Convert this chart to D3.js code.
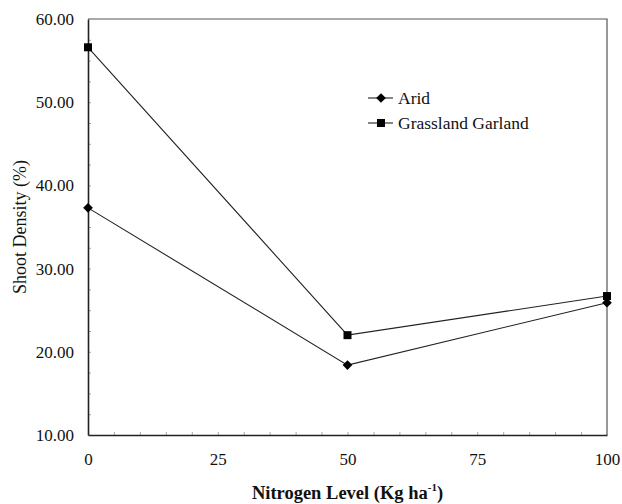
<!DOCTYPE html>
<html>
<head>
<meta charset="utf-8">
<script src="https://cdn.jsdelivr.net/npm/d3@7"></script>
<style>
  body { margin: 0; background: #fff; }
  svg, svg text { font-family: "Times New Roman", Times, "Liberation Serif", "DejaVu Serif", serif !important; }
</style>
</head>
<body>
<svg id="chart" width="622" height="504"></svg>
<script>
const nitrogen = [0, 50, 100];
const arid = [37.3, 18.4, 25.9];
const grassland = [56.6, 22.0, 26.7];
const xTicks = [0, 25, 50, 75, 100];
const yTicks = [10, 20, 30, 40, 50, 60];

const margin = { top: 19, right: 15, bottom: 69, left: 88 };
const width = 622 - margin.left - margin.right;
const height = 504 - margin.top - margin.bottom;

const svg = d3.select('#chart');
const g = svg.append('g')
  .attr('transform', `translate(${margin.left},${margin.top})`);

const x = d3.scaleLinear().domain([0, 100]).range([0, width]);
const y = d3.scaleLinear().domain([10, 60]).range([height, 0]);

// frame (top and right)
g.append('path')
  .attr('d', `M0,0H${width}V${height}`)
  .attr('fill', 'none')
  .attr('stroke', '#555')
  .attr('stroke-width', 1.2);

// faint inner minor ticks
g.append('g')
  .attr('transform', `translate(0,${height})`)
  .call(d3.axisBottom(x).tickValues(d3.range(5, 100, 5)).tickSize(-3).tickFormat(''))
  .call(a => a.select('.domain').remove())
  .selectAll('line').attr('stroke', '#aaa');

g.append('g')
  .call(d3.axisLeft(y).tickValues(d3.range(12.5, 60, 2.5)).tickSize(-3).tickFormat(''))
  .call(a => a.select('.domain').remove())
  .selectAll('line').attr('stroke', '#aaa');

// axes
const xAxis = g.append('g')
  .attr('transform', `translate(0,${height})`)
  .call(d3.axisBottom(x).tickValues(xTicks).tickSize(0).tickPadding(18).tickFormat(d3.format('d')));
xAxis.select('.domain').attr('stroke', '#222').attr('stroke-width', 1.6);
xAxis.selectAll('text')
  .style('font-size', '17px')
  .attr('fill', '#111');

const yAxis = g.append('g')
  .call(d3.axisLeft(y).tickValues(yTicks).tickSize(0).tickPadding(14).tickFormat(d3.format('.2f')));
yAxis.select('.domain').attr('stroke', '#222').attr('stroke-width', 1.6);
yAxis.selectAll('text')
  .style('font-size', '17px')
  .attr('fill', '#111');

// axis titles
const xTitle = svg.append('text')
  .attr('x', margin.left + width / 2)
  .attr('y', 499)
  .attr('text-anchor', 'middle')
  .style('font-size', '18.5px')
  .style('font-weight', 'bold')
  .attr('fill', '#111');
xTitle.append('tspan').text('Nitrogen Level (Kg ha');
xTitle.append('tspan').attr('dy', -8).style('font-size', '11px').text('-1');
xTitle.append('tspan').attr('dy', 8).text(')');

svg.append('text')
  .attr('transform', 'rotate(-90)')
  .attr('x', -227)
  .attr('y', 26)
  .attr('text-anchor', 'middle')
  .style('font-size', '18px')
  .attr('fill', '#111')
  .text('Shoot Density (%)');

// series
const series = [
  { name: 'Arid', values: arid, symbol: d3.symbolDiamond2, size: 60 },
  { name: 'Grassland Garland', values: grassland, symbol: d3.symbolSquare, size: 64 }
];

const line = d3.line()
  .x((d, i) => x(nitrogen[i]))
  .y(d => y(d));

series.forEach(s => {
  g.append('path')
    .datum(s.values)
    .attr('fill', 'none')
    .attr('stroke', '#222')
    .attr('stroke-width', 1.1)
    .attr('d', line);

  g.selectAll(null)
    .data(s.values)
    .enter()
    .append('path')
    .attr('transform', (d, i) => `translate(${x(nitrogen[i])},${y(d)})`)
    .attr('d', d3.symbol().type(s.symbol).size(s.size))
    .attr('fill', '#000');
});

// legend
const legend = svg.append('g').attr('transform', 'translate(368,98)');
series.forEach((s, i) => {
  const row = legend.append('g').attr('transform', `translate(0,${i * 25})`);
  row.append('line')
    .attr('x1', 0).attr('x2', 25)
    .attr('stroke', '#222').attr('stroke-width', 1.1);
  row.append('path')
    .attr('transform', 'translate(13,0)')
    .attr('d', d3.symbol().type(s.symbol).size(s.size))
    .attr('fill', '#000');
  row.append('text')
    .attr('x', 30)
    .attr('dy', '0.35em')
    .style('font-size', '17.5px')
    .attr('fill', '#111')
    .text(s.name);
});
</script>
</body>
</html>
